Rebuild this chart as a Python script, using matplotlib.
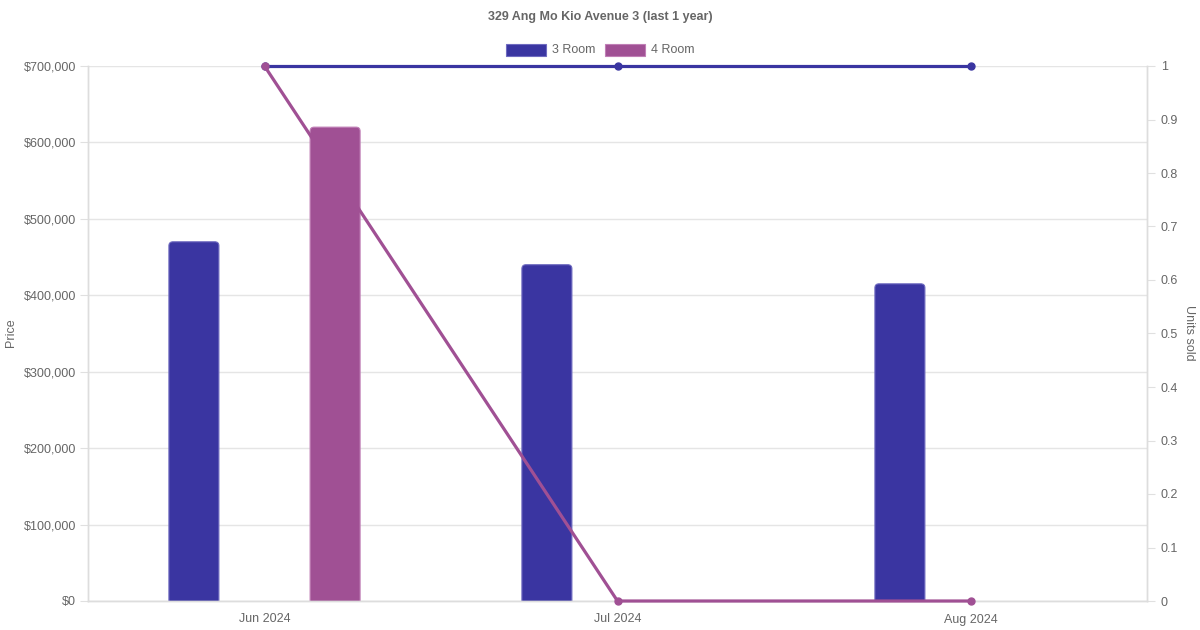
import matplotlib
matplotlib.use("Agg")
import matplotlib.pyplot as plt
from matplotlib.patches import Rectangle, FancyBboxPatch
from matplotlib.ticker import FuncFormatter, MultipleLocator
import numpy as np

plt.rcParams['font.family'] = ['Liberation Sans', 'DejaVu Sans']

title = "329 Ang Mo Kio Avenue 3 (last 1 year)"
months = ["Jun 2024", "Jul 2024", "Aug 2024"]
series = ["3 Room", "4 Room"]
price_3room = [470000, 440000, 415000]
price_4room = [620000, np.nan, np.nan]
units_3room = [1, 1, 1]
units_4room = [1, 0, 0]

c3 = "#3a35a1"
c4 = "#a05094"
edge3 = "#6f6bc0"
edge4 = "#c07fb6"
txt = "#666666"
grid = "#e5e5e5"
fs = 9

W, H = 1200, 630
fig = plt.figure(figsize=(W / 100, H / 100), dpi=100)
L, R, T, B = 88, 1147, 66, 601
ax = fig.add_axes([L / W, 1 - B / H, (R - L) / W, (B - T) / H])
ax2 = ax.twinx()

x = np.arange(len(months))
off = 0.2
bw = 50 / 353
ax.set_xlim(-0.5, 2.5)
ax.set_ylim(0, 700000)
b3 = ax.bar(x - off, price_3room, width=bw, color=c3, edgecolor=edge3, linewidth=0.8, zorder=2)
b4 = ax.bar(x + off, price_4room, width=bw, color=c4, edgecolor=edge4, linewidth=0.8, zorder=2)

# round top corners (~4 px) of each bar
px_x = 3.0 / (R - L)   # data units per px in x
px_y = 700000 / (B - T)
rad_px = 4
for bars in (b3, b4):
    for p in bars:
        h = p.get_height()
        if not np.isfinite(h) or h <= 0:
            continue
        x0, w = p.get_x(), p.get_width()
        r = rad_px * px_x
        fb = FancyBboxPatch((x0, -rad_px * px_y * 2), w, h + rad_px * px_y * 2,
                            boxstyle=f"round,pad=0,rounding_size={r}",
                            mutation_aspect=px_y / px_x,
                            facecolor=p.get_facecolor(), edgecolor=p.get_edgecolor(),
                            linewidth=0.8, zorder=2, clip_on=True)
        ax.add_patch(fb)
        fb.set_clip_path(ax.patch)
        p.set_visible(False)

ax.yaxis.set_major_locator(MultipleLocator(100000))
ax.yaxis.set_major_formatter(FuncFormatter(lambda v, p: f"${v:,.0f}"))
ax.set_xticks(x)
ax.set_xticklabels(months)
ax.grid(axis='y', color=grid, linewidth=1, zorder=0)
ax.set_axisbelow(True)

ax2.plot(x, units_3room, color=c3, linewidth=2.3, marker='o', markersize=5, clip_on=False, zorder=5)
ax2.plot(x, units_4room, color=c4, linewidth=2.3, marker='o', markersize=5, clip_on=False, zorder=5)
ax2.set_ylim(0, 1)
ax2.yaxis.set_major_locator(MultipleLocator(0.1))
ax2.yaxis.set_major_formatter(FuncFormatter(lambda v, p: f"{int(round(v))}" if abs(v - round(v)) < 1e-9 else f"{v:.1f}"))

for a in (ax, ax2):
    for s in a.spines.values():
        s.set_color("#dddddd")
        s.set_linewidth(1)
    a.spines['top'].set_visible(False)
    a.tick_params(axis='both', colors=txt, labelsize=fs, length=5.8, width=0.8, pad=3)
    a.tick_params(axis='y', color="#e0e0e0")
ax.tick_params(axis='x', length=0, pad=9)
ax2.tick_params(axis='y', pad=4)

fig.text(11 / W, 1 - 333 / H, "Price", rotation=90, ha='center', va='center', color=txt, fontsize=fs)
fig.text(1189 / W, 1 - 333 / H, "Units sold", rotation=270, ha='center', va='center', color=txt, fontsize=fs)
fig.text(600 / W, 1 - 17 / H, title, ha='center', va='center', color=txt, fontsize=fs, fontweight='bold')

legend_items = [(506, c3, edge3, series[0]), (605, c4, edge4, series[1])]
for lx, fc, ec, lab in legend_items:
    fig.add_artist(Rectangle((lx / W, 1 - 56 / H), 40 / W, 12 / H, transform=fig.transFigure,
                             facecolor=fc, edgecolor=ec, linewidth=0.8))
    fig.text((lx + 46) / W, 1 - 50 / H, lab, ha='left', va='center', color=txt, fontsize=fs)

fig.savefig("out.png", dpi=100)
